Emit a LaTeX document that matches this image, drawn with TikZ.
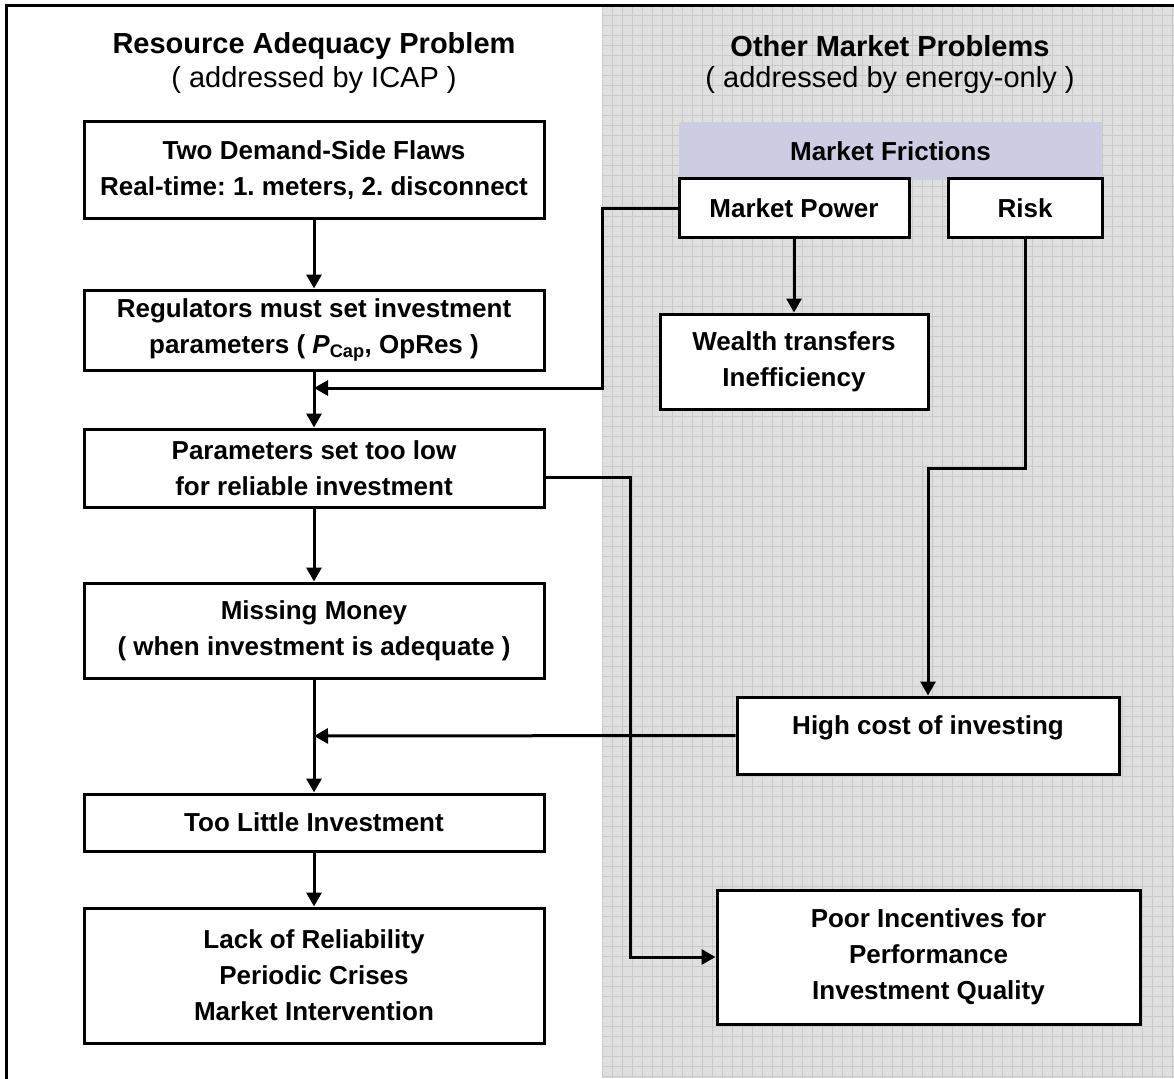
\documentclass[tikz,border=0pt]{standalone}
\usepackage{fontspec}
\setmainfont{Liberation Sans}
\usetikzlibrary{arrows.meta}
\definecolor{gridbg}{RGB}{223,223,223}
\definecolor{gridln}{RGB}{201,201,201}
\definecolor{mfshade}{RGB}{204,204,226}
\newcommand\bodyfont{\fontsize{26}{36}\selectfont\bfseries}
\newcommand\hdrfont{\fontsize{29}{34}\selectfont}
\frenchspacing
\begin{document}
\begin{tikzpicture}[x=1pt,y=-1pt,
  box/.style={draw=black, line width=3pt, fill=white, align=center, inner sep=0pt, font=\bodyfont},
  conn/.style={line width=3pt, -{Triangle[length=14pt,width=15pt]}},
  hdr/.style={font=\hdrfont, inner sep=0pt},
  hdrb/.style={font=\hdrfont\bfseries, inner sep=0pt}]
\useasboundingbox (0,0) rectangle (1174,1078);
% shaded right panel with grid
\fill[gridbg] (602,6) rectangle (1174,1078);
\foreach \gx in {602,612,...,1172} \draw[gridln, line width=1pt] (\gx,6) -- (\gx,1078);
\foreach \gy in {6,16,...,1076} \draw[gridln, line width=1pt] (602,\gy) -- (1174,\gy);
% outer frame
\draw[line width=3pt] (6,1080) -- (6,6) -- (1176,6);

% headers
\node[hdrb] (hL) at (314,46) {Resource Adequacy Problem};
\node[hdr] (sL) at (314,80) {( addressed by ICAP )};
\node[hdrb] (hR) at (890,46) {Other Market Problems};
\node[hdr] (sR) at (890,80) {( addressed by energy-only )};

% left column
\node[box, minimum width=460pt, minimum height=96pt] (b1) at (314,170) {Two Demand-Side Flaws\\Real-time: 1. meters, 2. disconnect};
\node[box, minimum width=460pt, minimum height=80pt] (b2) at (314,330) {Regulators must set investment\\parameters ( \textit{P}\textsubscript{Cap}, OpRes )};
\node[box, minimum width=460pt, minimum height=78pt] (b3) at (314,468) {Parameters set too low\\for reliable investment};
\node[box, minimum width=460pt, minimum height=95pt] (b4) at (314,630.5) {Missing Money\\( when investment is adequate )};
\node[box, minimum width=460pt, minimum height=57pt] (b5) at (314,822.5) {Too Little Investment};
\node[box, minimum width=460pt, minimum height=135pt] (b6) at (314,975.5) {Lack of Reliability\\Periodic Crises\\Market Intervention};

% right column
\node[fill=mfshade, minimum width=423pt, minimum height=58pt, inner sep=0pt, font=\bodyfont] (mf) at (890.5,151) {Market Frictions};
\node[box, minimum width=230pt, minimum height=58pt] (mp) at (794,208) {Market Power};
\node[box, minimum width=154pt, minimum height=58pt] (risk) at (1025,208) {Risk};
\node[box, minimum width=268pt, minimum height=95pt] (wt) at (794,361.5) {Wealth transfers\\Inefficiency};
\node[box, minimum width=382pt, minimum height=77pt] (hc) at (928,735.5) {\raisebox{21pt}{High cost of investing}};
\node[box, minimum width=423pt, minimum height=134pt] (pi) at (928.5,957) {Poor Incentives for\\Performance\\Investment Quality};

% connectors
\coordinate (j1) at (314,388);
\coordinate (j3) at (630,477);
\coordinate (j4) at (314,736);
\draw[conn] (b1.south) -- (b2.north);
\draw[conn] (mp.west) -- ++(-75,0) |- (j1);
\draw[conn] (b2.south) -- (b3.north);
\draw[conn] (j3 -| b3.east) -- (j3) |- (pi.west);
\draw[conn] (mp.south) -- (wt.north);
\draw[conn] (risk.south) -- ++(0,230) -| (hc.north);
\draw[conn] (b3.south) -- (b4.north);
\draw[conn] (hc.west) -- (j4);
\draw[conn] (b4.south) -- (b5.north);
\draw[conn] (b5.south) -- (b6.north);
\end{tikzpicture}
\end{document}
